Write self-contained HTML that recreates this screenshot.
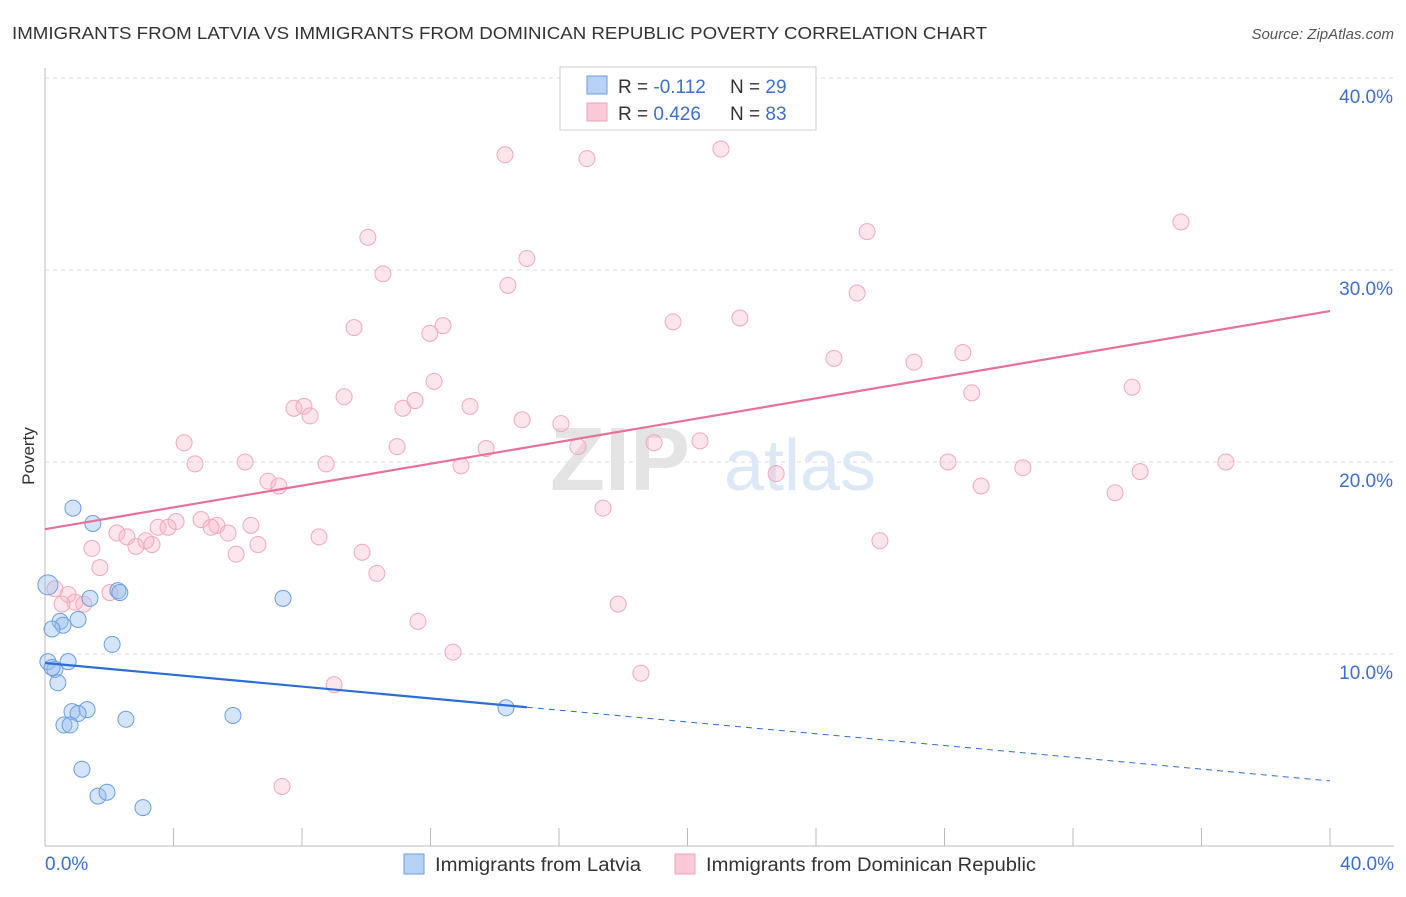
<!DOCTYPE html>
<html><head><meta charset="utf-8"><style>
body{margin:0;background:#fff;font-family:"Liberation Sans",sans-serif;}
svg text{font-family:"Liberation Sans",sans-serif;}
</style></head><body>
<svg id="chart" width="1406" height="892">
<text x="12" y="39" font-size="17.5" fill="#333" textLength="975" lengthAdjust="spacingAndGlyphs">IMMIGRANTS FROM LATVIA VS IMMIGRANTS FROM DOMINICAN REPUBLIC POVERTY CORRELATION CHART</text>
<text x="1394" y="39" font-size="15" fill="#555" font-style="italic" text-anchor="end">Source: ZipAtlas.com</text>
<text transform="translate(34,456) rotate(-90)" font-size="17" fill="#333" text-anchor="middle">Poverty</text>
<g id="grid"></g>
<text x="620" y="490" font-size="90" fill="#e4e4e4" font-family="Liberation Serif" text-anchor="middle" font-weight="bold">ZIP</text>
<text x="800" y="490" font-size="72" fill="#dce8f6" text-anchor="middle">atlas</text>
<g id="marks"></g>
<g>
<rect x="560" y="67" width="256" height="63" fill="#fff" stroke="#ccc"/>
<rect x="587" y="76" width="20" height="18" fill="#b8d2f6" stroke="#6a9ee0"/>
<rect x="587" y="103" width="20" height="18" fill="#fbc8d8" stroke="#f0a0b8"/>
<text x="618" y="93" font-size="19" fill="#333">R = <tspan fill="#3d6fd0">-0.112</tspan></text>
<text x="730" y="93" font-size="19" fill="#333">N = <tspan fill="#3d6fd0">29</tspan></text>
<text x="618" y="120" font-size="19" fill="#333">R = <tspan fill="#3d6fd0">0.426</tspan></text>
<text x="730" y="120" font-size="19" fill="#333">N = <tspan fill="#3d6fd0">83</tspan></text>
</g>
<g>
<rect x="404" y="854" width="20" height="20" fill="#b8d2f6" stroke="#6a9ee0"/>
<text x="435" y="871" font-size="19" fill="#333" textLength="206" lengthAdjust="spacingAndGlyphs">Immigrants from Latvia</text>
<rect x="675" y="854" width="20" height="20" fill="#fbc8d8" stroke="#f0a0b8"/>
<text x="706" y="871" font-size="19" fill="#333" textLength="330" lengthAdjust="spacingAndGlyphs">Immigrants from Dominican Republic</text>
</g>
<text x="45" y="870" font-size="19" fill="#3d6fd0">0.0%</text>
<text x="1394" y="870" font-size="19" fill="#3d6fd0" text-anchor="end">40.0%</text>
</svg>
<script>
const yTicks=[10,20,30,40];
const yTickLabels=["10.0%","20.0%","30.0%","40.0%"];
const xTicks=[0,4,8,12,16,20,24,28,32,36,40];
const latviaX=[0.09,0.87,1.49,1.40,2.27,2.33,1.03,0.47,0.56,0.22,2.09,0.09,0.72,0.31,0.40,0.84,1.31,1.03,0.59,0.78,2.52,5.85,7.41,14.35,1.15,1.65,1.93,3.05,0.22];
const latviaY=[13.6,17.6,16.8,12.9,13.3,13.2,11.8,11.7,11.5,11.3,10.5,9.6,9.6,9.2,8.5,7.0,7.1,6.9,6.3,6.3,6.6,6.8,12.9,7.2,4.0,2.6,2.8,2.0,9.3];
const domX=[14.32,16.87,21.04,35.36,10.05,25.59,15.00,10.52,14.41,25.28,9.62,12.39,11.98,19.55,21.63,24.56,27.05,28.57,12.11,9.31,28.85,33.84,7.75,8.06,8.25,11.14,11.52,13.23,14.85,16.06,4.33,10.96,13.73,16.59,18.96,20.39,4.67,6.23,8.75,12.95,22.76,28.11,30.44,34.09,36.76,6.94,7.28,29.14,33.31,17.37,4.08,4.86,5.35,3.52,3.83,5.17,6.41,5.70,2.24,2.55,3.14,3.33,2.83,8.53,6.63,25.99,1.46,5.95,9.87,1.71,10.33,0.31,0.72,2.02,0.53,0.93,1.21,17.84,11.61,12.70,18.55,9.00,7.38];
const domY=[36.0,35.8,36.3,32.5,31.7,32.0,30.6,29.8,29.2,28.8,27.0,27.1,26.7,27.3,27.5,25.4,25.2,25.7,24.2,23.4,23.6,23.9,22.8,22.9,22.4,22.8,23.2,22.9,22.2,22.0,21.0,20.8,20.7,20.8,21.0,21.1,19.9,20.0,19.9,19.8,19.4,20.0,19.7,19.5,20.0,19.0,18.75,18.75,18.4,17.6,16.9,17.0,16.7,16.6,16.6,16.6,16.7,16.3,16.3,16.1,15.9,15.7,15.6,16.1,15.7,15.9,15.5,15.2,15.3,14.5,14.2,13.4,13.1,13.2,12.6,12.7,12.6,12.6,11.7,10.1,9.0,8.4,3.1];
const latviaTrend=[9.53,3.39];
const domTrend=[16.5,27.86];
const NS="http://www.w3.org/2000/svg";
const sx=v=>45+v*32.125, sy=v=>846-v*19.2;
function mk(t,a,p){const e=document.createElementNS(NS,t);for(const k in a)e.setAttribute(k,a[k]);p.appendChild(e);return e;}
const grid=document.getElementById('grid'),marks=document.getElementById('marks');
yTicks.forEach((t,i)=>{
 const l=mk('line',{x1:45,x2:1394,y1:sy(t),y2:sy(t),stroke:'#ddd','stroke-dasharray':'4,4'},grid);
 
 
 const tx=mk('text',{x:1393,y:sy(t)+25,'font-size':19,fill:'#3d6fd0','text-anchor':'end'},grid);
 tx.textContent=yTickLabels[i];
 
 
});
const ax=mk('line',{x1:45,x2:45,y1:68,y2:846,stroke:'#bbb'},grid);


const bx=mk('line',{x1:45,x2:1394,y1:846,y2:846,stroke:'#bbb'},grid);


xTicks.forEach(t=>{
 const l=mk('line',{x1:sx(t),x2:sx(t),y1:828,y2:846,stroke:'#bbb'},grid);
 
 
});
domX.forEach((x,i)=>{
 const c=mk('circle',{cx:sx(x),cy:sy(domY[i]),r:8,fill:'rgba(248,180,200,0.35)',stroke:'#f0a8c0','stroke-width':1},marks);
 
 
});
latviaX.forEach((x,i)=>{
 const c=mk('circle',{cx:sx(x),cy:sy(latviaY[i]),r:i==0?10:8,fill:'rgba(150,190,240,0.4)',stroke:'#6a9ee0','stroke-width':1},marks);
 
 
});
const dl=mk('line',{x1:sx(0),y1:sy(domTrend[0]),x2:sx(40),y2:sy(domTrend[1]),stroke:'#e8709a','stroke-width':2.2},marks);


const ly=x=>latviaTrend[0]+(latviaTrend[1]-latviaTrend[0])*x/40;
const l1=mk('line',{x1:sx(0),y1:sy(ly(0)),x2:sx(15),y2:sy(ly(15)),stroke:'#2a6fd8','stroke-width':2.2},marks);


const l2=mk('line',{x1:sx(15),y1:sy(ly(15)),x2:sx(40),y2:sy(ly(40)),stroke:'#2a6fd8','stroke-width':1,'stroke-dasharray':'6,5'},marks);


</script>
</body></html>
